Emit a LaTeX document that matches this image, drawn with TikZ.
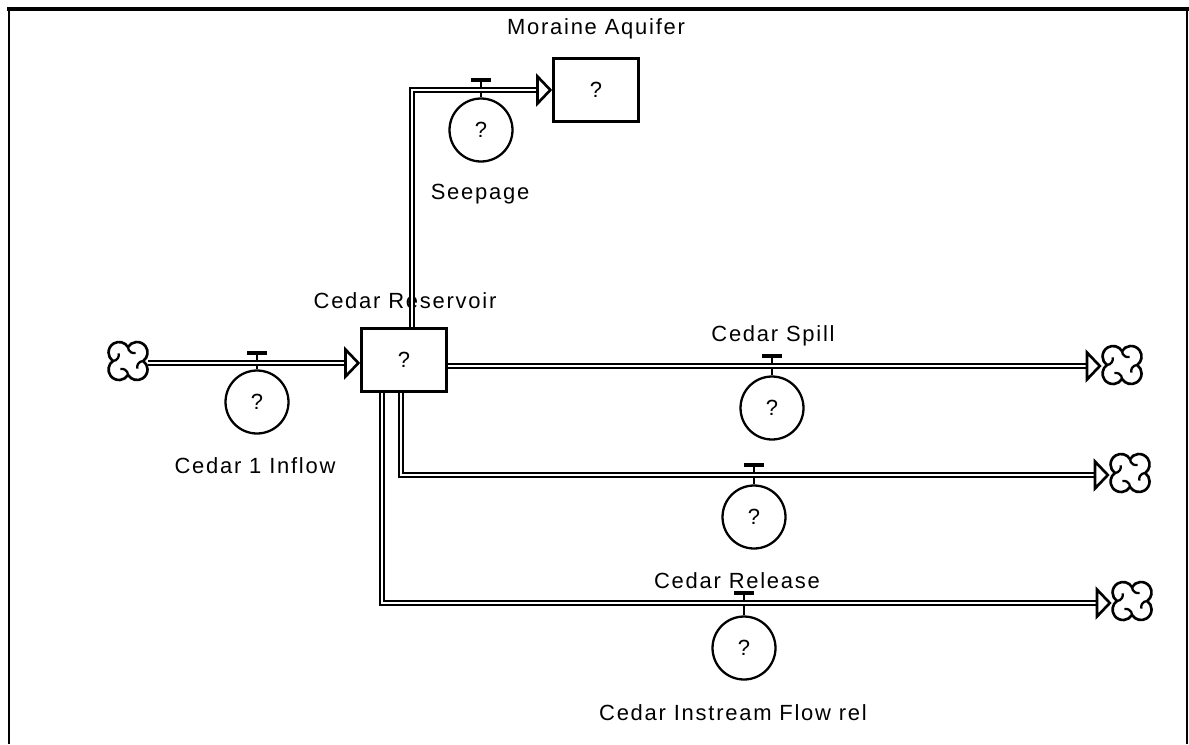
\documentclass[tikz,border=0pt]{standalone}
\usepackage{fontspec}
\setmainfont{Liberation Sans}[LetterSpace=8]
\usepackage{tikz}
\usetikzlibrary{
	arrows.meta,
	calc,
	positioning
}

\begin{document}
\begin{tikzpicture}[x=0.02cm,y=0.02cm,
    font=\fontsize{12.5}{15}\selectfont,
    stock/.style={draw,line width=1.5pt,minimum width=1.7cm,minimum height=1.26cm,inner sep=0pt},
    valve/.style={circle,draw,line width=1.3pt,minimum size=1.26cm,inner sep=0pt},
    pipe/.style={double,double distance=1.5pt,line width=1.1pt,shorten >=0.3cm},
    flowhead/.style={-{Triangle[length=0.32cm,width=0.66cm,fill=white,line width=1.5pt]}},
    stem/.style={line width=1.1pt},
    lbl/.style={anchor=base},
    cloudspot/.style={circle,minimum size=0.8cm,inner sep=0pt},
    pics/cloudpic/.style={code={
        \draw[line width=1.5pt] (15.2,0)
            arc[start angle=-54.1,end angle=149,radius=10.5]
            arc[start angle=31,end angle=234.1,radius=10.5]
            arc[start angle=125.9,end angle=329,radius=10.5]
            arc[start angle=211,end angle=414.1,radius=10.5] -- cycle;
        \foreach \a/\r in {0/15.2,90/13.9,180/15.2,270/13.9}
            \draw[line width=1.3pt] (\a:\r) arc[start angle=\a+90,end angle=\a+195,radius=6];}},
    pics/tbar/.style={code={
        \draw[line width=2.2pt] (-10,10) -- (10,10);
        \draw[stem] (0,10) -- (0,0);}}
]
    \useasboundingbox (0,0) rectangle (1189,-744);
    % frame
    \draw[line width=2.8pt] (7,-9) -- (1189,-9);
    \draw[line width=1.7pt] (9,-744) -- (9,-9);
    \draw[line width=1.1pt] (1187,-9) -- (1187,-744);

    % stocks
    \node[stock] (res) at (404,-360) {?};
    \node[stock] (moraine) at (596,-90) {?};
    \node[lbl] (reslbl) at (405,-308) {Cedar\ Reservoir};
    \node[lbl] (morainelbl) at (596,-34) {Moraine\ Aquifer};

    % clouds
    \node[cloudspot] (src) at (128,-361) {};
    \node[cloudspot] (spillsink) at (1122,-365) {};
    \node[cloudspot] (relsink) at (1130,-473) {};
    \node[cloudspot] (instsink) at (1132,-601) {};
    \foreach \c in {src,spillsink,relsink,instsink}
        \pic at (\c) {cloudpic};

    % valves
    \node[valve] (inflow) at (257,-402) {?};
    \node[valve] (seepage) at (481,-130) {?};
    \node[valve] (spill) at (772,-408) {?};
    \node[valve] (release) at (754,-517) {?};
    \node[valve] (instream) at (744,-648) {?};
    \node[lbl] (inflowlbl) at (255,-473) {Cedar 1 Inflow};
    \node[lbl] (seepagelbl) at (480,-199) {Seepage};
    \node[lbl] (spilllbl) at (773,-341) {Cedar Spill};
    \node[lbl] (releaselbl) at (737,-588) {Cedar Release};
    \node[lbl] (instreamlbl) at (733,-720) {Cedar Instream Flow rel};

    % points on the pipes
    \coordinate (inflowp) at (257,-363);
    \coordinate (seepagep) at (481,-90);
    \coordinate (spillp) at (772,-366);
    \coordinate (releasep) at (754,-475);
    \coordinate (instreamp) at (744,-603);
    \coordinate (seepstart) at ($(res.north)+(8,0)$);
    \coordinate (spillstart) at ($(res.east)+(0,-6)$);
    \coordinate (relstart) at ($(res.south)+(-3,0)$);
    \coordinate (inststart) at ($(res.south)+(-22,0)$);
    \coordinate (inflowend) at (inflowp -| res.west);
    \coordinate (spillend) at (spillp -| spillsink.west);
    \coordinate (relend) at (releasep -| relsink.west);
    \coordinate (instend) at (instreamp -| instsink.west);

    \foreach \v in {inflow,seepage,spill,release,instream}{
        \pic at (\v p) {tbar};
        \draw[stem] (\v p) -- (\v);
    }

    % pipes
    \draw[pipe] (src.east |- inflowp) -- (inflowend);
    \draw[pipe] (seepstart) |- (moraine.west);
    \draw[pipe] (spillstart) -- (spillend);
    \draw[pipe] (relstart) |- (relend);
    \draw[pipe] (inststart) |- (instend);

    % arrow heads
    \draw[flowhead] ($(inflowend)+(-16,0)$) -- (inflowend);
    \draw[flowhead] ($(moraine.west)+(-16,0)$) -- (moraine.west);
    \draw[flowhead] ($(spillend)+(-16,0)$) -- (spillend);
    \draw[flowhead] ($(relend)+(-16,0)$) -- (relend);
    \draw[flowhead] ($(instend)+(-16,0)$) -- (instend);
\end{tikzpicture}
\end{document}
